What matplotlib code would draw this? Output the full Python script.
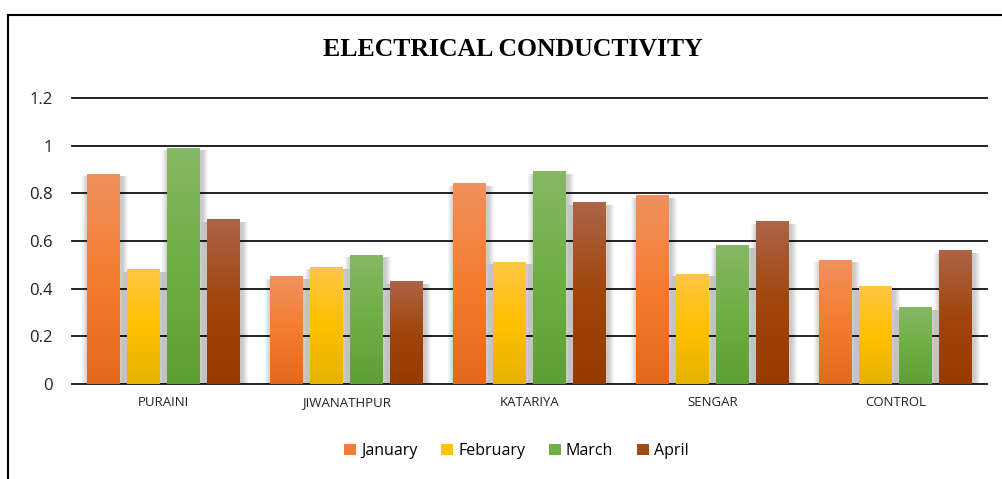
import numpy as np
import matplotlib
matplotlib.use("Agg")
import matplotlib.pyplot as plt
from matplotlib.colors import LinearSegmentedColormap
from matplotlib.patches import Rectangle, Patch
from matplotlib.lines import Line2D

sites = ["PURAINI", "JIWANATHPUR", "KATARIYA", "SENGAR", "CONTROL"]
months = ["January", "February", "March", "April"]

january = [0.88, 0.45, 0.84, 0.79, 0.52]
february = [0.48, 0.49, 0.51, 0.46, 0.41]
march = [0.99, 0.54, 0.89, 0.58, 0.32]
april = [0.69, 0.43, 0.76, 0.68, 0.56]

yticks = [0, 0.2, 0.4, 0.6, 0.8, 1, 1.2]
ytick_labels = ["0", "0.2", "0.4", "0.6", "0.8", "1", "1.2"]

# cores (topo, meio, base) de cada mes
gradientes = {
    "January": ["#f0915e", "#f47d2f", "#e3691a"],
    "February": ["#ffc645", "#ffc000", "#e6b200"],
    "March": ["#86b865", "#6fae44", "#5e9f35"],
    "April": ["#ad6447", "#a0450b", "#963b00"],
}
cores_legenda = {
    "January": "#f07f3a",
    "February": "#ffc214",
    "March": "#72ae48",
    "April": "#a04a17",
}

W, H = 1003, 479
fig = plt.figure(figsize=(W / 100, H / 100), dpi=100)
ax = fig.add_axes([72 / W, (H - 384) / H, (987 - 72) / W, (384 - 98) / H])

largura = 0.18
passo = 0.22
series = [january, february, march, april]

px_x = 1 / 183
px_y = 1.2 / 286

gradiente = np.linspace(0, 1, 256).reshape(-1, 1)

for j, (mes, valores) in enumerate(zip(months, series)):
    cmap = LinearSegmentedColormap.from_list(mes, gradientes[mes][::-1])
    for i, v in enumerate(valores):
        x0 = i + (j - 1.5) * passo - largura / 2
        # sombra suave
        for k in range(1, 7):
            ax.add_patch(Rectangle((x0 - k * px_x + px_x, -k * px_y),
                                   largura + 2 * k * px_x + px_x, v - 2 * px_y + k * px_y,
                                   facecolor="#000000", alpha=0.035, linewidth=0, zorder=3))
        ax.imshow(gradiente, cmap=cmap, origin="lower", aspect="auto",
                  extent=[x0, x0 + largura, 0, v], zorder=4, interpolation="bilinear")

ax.set_xlim(-0.5, len(sites) - 0.5)
ax.set_ylim(0, 1.2)

for y in yticks:
    ax.axhline(y, color="#111111", linewidth=1.3, zorder=2, clip_on=False)

ax.set_yticks(yticks)
ax.set_yticklabels(ytick_labels, fontsize=12, family="Open Sans", color="#222222")
ax.set_xticks(range(len(sites)))
ax.set_xticklabels(sites, fontsize=9.5, family="Open Sans", color="#222222")
ax.tick_params(axis="both", length=0)
ax.tick_params(axis="y", pad=14)
ax.tick_params(axis="x", pad=9)
for s in ax.spines.values():
    s.set_visible(False)

fig.text(0.511, (H - 50) / H, "ELECTRICAL CONDUCTIVITY", ha="center", va="center",
         fontsize=18.5, fontweight="bold", family="Liberation Serif")

handles = [Patch(facecolor=cores_legenda[m], edgecolor="none", label=m) for m in months]
fig.legend(handles=handles, loc="center", bbox_to_anchor=(0.515, (H - 451) / H),
           ncol=4, frameon=False, handlelength=0.75, handleheight=0.75,
           handletextpad=0.3, columnspacing=1.5,
           prop={"family": "Open Sans", "size": 11.5})

# moldura
fig.add_artist(Line2D([8.5 / W, 8.5 / W], [0, 1 - 14.5 / H], color="black",
                      linewidth=1.5, transform=fig.transFigure))
fig.add_artist(Line2D([8.5 / W, 1], [1 - 14.5 / H, 1 - 14.5 / H], color="black",
                      linewidth=1.5, transform=fig.transFigure))

plt.savefig("out.png", dpi=100)
